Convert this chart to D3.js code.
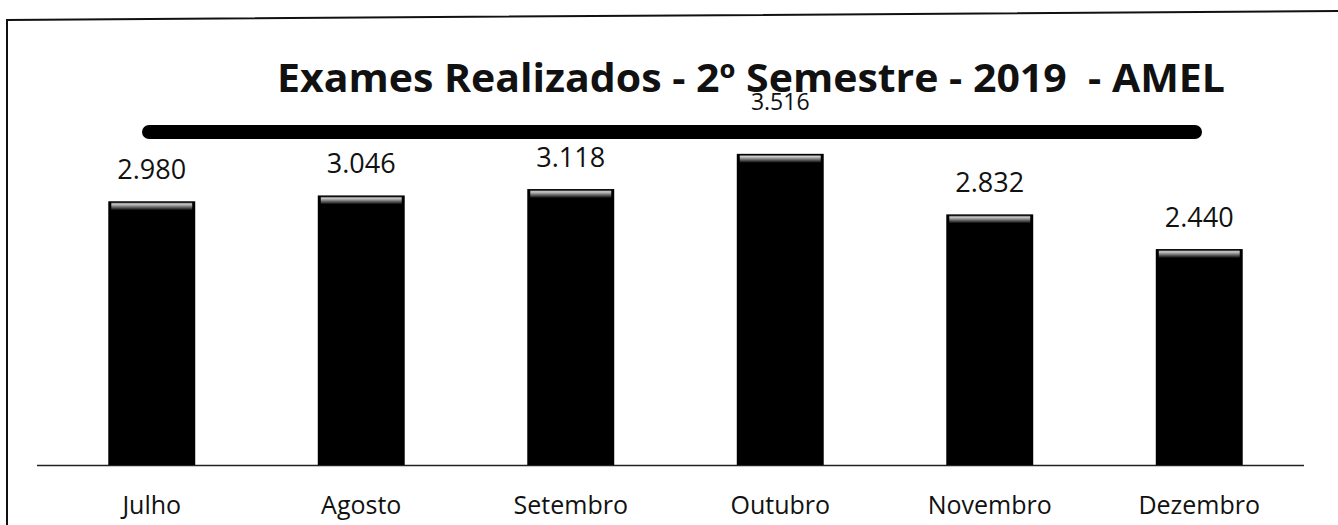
<!DOCTYPE html>
<html>
<head>
<meta charset="utf-8">
<script src="https://cdn.jsdelivr.net/npm/d3@7"></script>
<style>
    body { margin: 0; background: #fff; }
    svg { display: block; }
    text { font-family: "Open Sans", "Noto Sans", sans-serif; fill: #111; }
</style>
</head>
<body>
<svg id="chart" width="1338" height="525"></svg>
<script>
'use strict';

// data
const months = ["Julho", "Agosto", "Setembro", "Outubro", "Novembro", "Dezembro"];
const exames = [2980, 3046, 3118, 3516, 2832, 2440];
const valueLabels = ["2.980", "3.046", "3.118", "3.516", "2.832", "2.440"];
const chartTitle = "Exames Realizados - 2º Semestre - 2019  - AMEL";

const svg = d3.select("#chart"),
    width = +svg.attr("width"),
    height = +svg.attr("height");

const x = d3.scaleBand()
    .domain(months)
    .range([47, 1304])
    .paddingInner(0.585)
    .paddingOuter(0.2925);

const y = d3.scaleLinear()
    .domain([0, 4000])
    .range([465, 111]);

// gradient for the little bevel on top of each bar
const defs = svg.append("defs");
const grad = defs.append("linearGradient")
    .attr("id", "topShine")
    .attr("x1", 0).attr("y1", 0).attr("x2", 0).attr("y2", 1);
grad.append("stop").attr("offset", "0%").attr("stop-color", "#111");
grad.append("stop").attr("offset", "20%").attr("stop-color", "#cfcfcf");
grad.append("stop").attr("offset", "55%").attr("stop-color", "#777");
grad.append("stop").attr("offset", "100%").attr("stop-color", "#000");

// scanned frame (slightly tilted)
svg.append("path")
    .attr("d", "M7," + height + " L7,20 L" + width + ",11")
    .attr("fill", "none")
    .attr("stroke", "#111")
    .attr("stroke-width", 2);

// title
const titleY = 92;
svg.append("text")
    .attr("x", 751)
    .attr("y", titleY)
    .attr("text-anchor", "middle")
    .attr("textLength", 948)
    .attr("lengthAdjust", "spacingAndGlyphs")
    .style("white-space", "pre")
    .style("font-size", "39px")
    .style("font-weight", 700)
    .text(chartTitle);

// thick rule under the title
const ruleY = 132;
svg.append("line")
    .attr("x1", 149).attr("x2", 1195)
    .attr("y1", ruleY).attr("y2", ruleY)
    .attr("stroke", "#000")
    .attr("stroke-width", 14)
    .attr("stroke-linecap", "round");

// baseline
svg.append("line")
    .attr("x1", x.range()[0] - 10).attr("x2", x.range()[1])
    .attr("y1", y(0) + 0.5).attr("y2", y(0) + 0.5)
    .attr("stroke", "#222")
    .attr("stroke-width", 1.5);

const bars = svg.append("g").selectAll("g")
    .data(exames)
    .enter().append("g");

bars.append("rect")
    .attr("x", (d, i) => x(months[i]))
    .attr("y", d => y(d))
    .attr("width", x.bandwidth())
    .attr("height", d => y(0) - y(d))
    .attr("fill", "#000");

bars.append("rect")
    .attr("x", (d, i) => x(months[i]) + 3)
    .attr("y", d => y(d) + 1)
    .attr("width", x.bandwidth() - 6)
    .attr("height", 8)
    .attr("fill", "url(#topShine)");

// value labels, pushed above the rule when they would sit on it
function onRule(d) {
    const ly = y(d) - 22;
    return ly > ruleY - 14 && ly < ruleY + 26;
}

bars.append("text")
    .attr("x", (d, i) => x(months[i]) + x.bandwidth() / 2)
    .attr("y", d => onRule(d) ? ruleY - 22 : y(d) - 22)
    .attr("text-anchor", "middle")
    .style("font-size", d => onRule(d) ? "23px" : "27px")
    .text((d, i) => valueLabels[i]);

// category labels
svg.append("g").selectAll("text")
    .data(months)
    .enter().append("text")
    .attr("x", d => x(d) + x.bandwidth() / 2)
    .attr("y", 514)
    .attr("text-anchor", "middle")
    .style("font-size", "25px")
    .text(d => d);
</script>
</body>
</html>
